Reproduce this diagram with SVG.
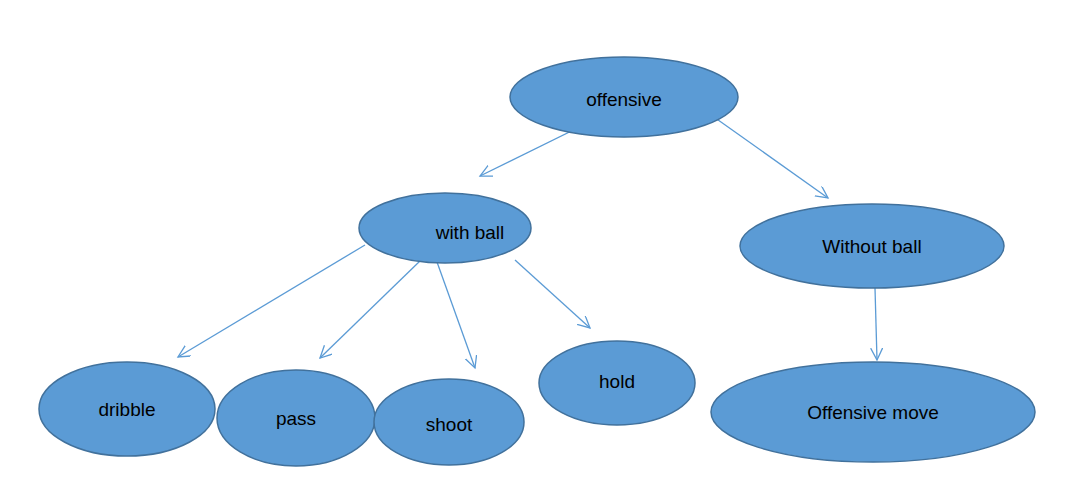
<svg xmlns="http://www.w3.org/2000/svg" width="1076" height="483" viewBox="0 0 1076 483">
<style>
ellipse{fill:#5b9bd5;stroke:#41719c;stroke-width:1.5}
text{font-family:"Liberation Sans",Arial,sans-serif;font-size:19px;fill:#000;text-anchor:middle;dominant-baseline:central}
.c line{stroke:#5b9bd5;stroke-width:1.3;marker-end:url(#a)}
</style>
<defs><marker id="a" markerWidth="14" markerHeight="14" refX="12" refY="6" orient="auto" markerUnits="userSpaceOnUse"><path d="M0,0 L12,6 L0,12" fill="none" stroke="#5b9bd5" stroke-width="1.3"/></marker></defs>
<rect width="1076" height="483" fill="#fff"/>
<g class="c">
<line x1="608" y1="113" x2="480" y2="176"/>
<line x1="697" y1="105" x2="828" y2="198"/>
<line x1="365" y1="245" x2="178" y2="357"/>
<line x1="421" y1="260" x2="320" y2="358"/>
<line x1="437" y1="262" x2="475" y2="368"/>
<line x1="515" y1="260" x2="590" y2="328"/>
<line x1="875" y1="288" x2="877" y2="360"/>
</g>
<g id="offensive"><ellipse cx="624" cy="97" rx="114" ry="40"/><text x="624" y="99">offensive</text></g>
<g id="withball"><ellipse cx="445" cy="228" rx="86" ry="35"/><text x="470" y="232">with ball</text></g>
<g id="withoutball"><ellipse cx="872" cy="246" rx="132" ry="42"/><text x="872" y="246">Without ball</text></g>
<g id="dribble"><ellipse cx="127" cy="409" rx="88" ry="47"/><text x="127" y="409">dribble</text></g>
<g id="pass"><ellipse cx="296" cy="418" rx="79" ry="48"/><text x="296" y="418">pass</text></g>
<g id="shoot"><ellipse cx="449" cy="422" rx="75" ry="43"/><text x="449" y="424">shoot</text></g>
<g id="hold"><ellipse cx="617" cy="383" rx="78" ry="42"/><text x="617" y="381">hold</text></g>
<g id="move"><ellipse cx="873" cy="412" rx="162" ry="50"/><text x="873" y="412">Offensive move</text></g>
</svg>
